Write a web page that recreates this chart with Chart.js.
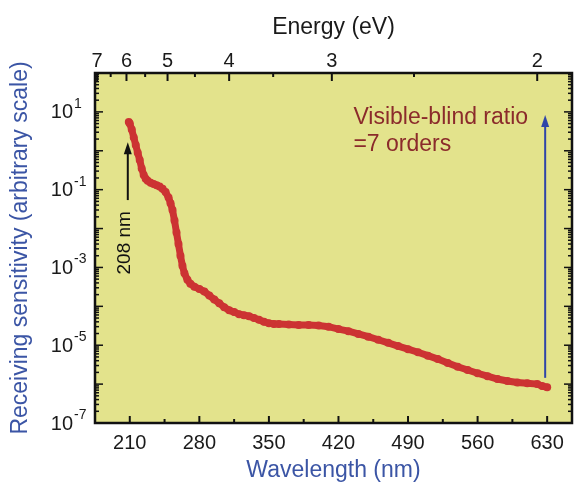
<!DOCTYPE html>
<html>
<head>
<meta charset="utf-8">
<script src="https://cdn.jsdelivr.net/npm/chart.js@4.4.0/dist/chart.umd.min.js"></script>
<style>
  html, body { margin: 0; padding: 0; background: #fff; }
  #wrap { width: 576px; height: 482px; }
</style>
</head>
<body>
<div id="wrap"><canvas id="c" width="576" height="482"></canvas></div>
<script>
// values (wavelength in nm, sensitivity arbitrary)
const wavelengths = [209, 210, 212, 214, 216, 218, 220, 222, 224, 226, 228, 231, 234, 237, 240, 243, 246, 249, 251, 253,
  255, 257, 259, 261, 263, 265, 268, 271, 275, 280, 285, 290, 295, 300, 305, 310, 315, 320, 325, 330,
  335, 340, 345, 350, 355, 360, 370, 380, 390, 400, 410, 420, 430, 440, 450, 460, 470, 480, 490, 500,
  510, 520, 530, 540, 550, 560, 570, 580, 590, 600, 610, 620, 625, 630];
const sensitivity = [5.5, 5.0, 3.5, 2.2, 1.4, 0.89, 0.58, 0.35, 0.24, 0.19, 0.17, 0.15, 0.14, 0.13, 0.12, 0.105, 0.087, 0.063, 0.045, 0.030,
  0.016, 7.9e-3, 4.0e-3, 2.0e-3, 1.1e-3, 7.1e-4, 4.8e-4, 3.8e-4, 3.2e-4, 2.8e-4, 2.4e-4, 1.9e-4, 1.5e-4, 1.2e-4, 9.5e-5, 7.9e-5, 7.1e-5, 6.3e-5, 5.9e-5, 5.6e-5,
  5.0e-5, 4.5e-5, 4.0e-5, 3.7e-5, 3.5e-5, 3.5e-5, 3.4e-5, 3.3e-5, 3.3e-5, 3.2e-5, 3.0e-5, 2.6e-5, 2.3e-5, 1.95e-5, 1.66e-5, 1.38e-5, 1.15e-5, 9.5e-6, 7.9e-6, 6.6e-6,
  5.4e-6, 4.4e-6, 3.5e-6, 2.8e-6, 2.3e-6, 1.9e-6, 1.6e-6, 1.35e-6, 1.2e-6, 1.1e-6, 1.05e-6, 1.0e-6, 8.9e-7, 8.3e-7];

const wavelengthTicks = [210, 280, 350, 420, 490, 560, 630];
const energyTicks = [7, 6, 5, 4, 3, 2];
const energyMinor = [6.5, 5.5, 4.5, 3.5, 2.5];
const decadeLabels = [1, -1, -3, -5, -7];

const blackArrow = { x: 208, from: 0.054, to: 1.66 };
const blueArrow = { x: 628, from: 1.45e-6, to: 8.3 };

const plotBg = '#e3e38c';
const red = '#cc3333';
const blue = '#3b55a5';
const FONT = '"Liberation Sans", Arial, sans-serif';

function arrow(ctx, x, y0, y1, color, w) {
  ctx.save();
  ctx.strokeStyle = color;
  ctx.fillStyle = color;
  ctx.lineWidth = w;
  ctx.beginPath();
  ctx.moveTo(x, y0);
  ctx.lineTo(x, y1 + 8);
  ctx.stroke();
  ctx.beginPath();
  ctx.moveTo(x, y1);
  ctx.lineTo(x - 4, y1 + 12);
  ctx.lineTo(x + 4, y1 + 12);
  ctx.closePath();
  ctx.fill();
  ctx.restore();
}

const decor = {
  id: 'decor',
  beforeDraw(chart) {
    const a = chart.chartArea, ctx = chart.ctx;
    ctx.save();
    ctx.fillStyle = plotBg;
    ctx.fillRect(a.left, a.top, a.right - a.left, a.bottom - a.top);
    ctx.restore();
  },
  afterDraw(chart) {
    const a = chart.chartArea, ctx = chart.ctx;
    const x = chart.scales.x, y = chart.scales.y;
    ctx.save();
    ctx.strokeStyle = '#111';

    // inside ticks, bottom
    ctx.lineWidth = 2;
    for (let v = 210; v < 655; v += 35) {
      const px = x.getPixelForValue(v);
      const len = wavelengthTicks.includes(v) ? 7 : 4;
      ctx.beginPath(); ctx.moveTo(px, a.bottom); ctx.lineTo(px, a.bottom - len); ctx.stroke();
    }
    // inside ticks, top (energy)
    energyTicks.concat(energyMinor).forEach(e => {
      const px = x.getPixelForValue(1240 / e);
      const len = energyTicks.includes(e) ? 8 : 4;
      ctx.beginPath(); ctx.moveTo(px, a.top); ctx.lineTo(px, a.top + len); ctx.stroke();
    });
    // inside ticks, left and right (log)
    ctx.lineWidth = 1.5;
    for (let d = -7; d < 2; d++) {
      for (let m = 1; m < 10; m++) {
        const py = y.getPixelForValue(m * Math.pow(10, d));
        if (py < a.top) continue;
        const len = m === 1 ? 8 : 4;
        ctx.beginPath(); ctx.moveTo(a.left, py); ctx.lineTo(a.left + len, py); ctx.stroke();
        ctx.beginPath(); ctx.moveTo(a.right, py); ctx.lineTo(a.right - len, py); ctx.stroke();
      }
    }

    // frame
    ctx.lineWidth = 2.5;
    ctx.strokeRect(a.left, a.top, a.right - a.left, a.bottom - a.top);

    // y tick labels with superscripts
    ctx.fillStyle = '#1a1a1a';
    ctx.textBaseline = 'middle';
    decadeLabels.forEach(p => {
      const py = y.getPixelForValue(Math.pow(10, p));
      ctx.font = '20px ' + FONT;
      ctx.textAlign = 'right';
      ctx.fillText('10', 73, py + 1);
      ctx.font = '14px ' + FONT;
      ctx.textAlign = 'left';
      ctx.fillText(p < 0 ? '-' + (-p) : String(p), 74, py - 8);
    });

    // annotations
    arrow(ctx, x.getPixelForValue(blackArrow.x), y.getPixelForValue(blackArrow.from), y.getPixelForValue(blackArrow.to), '#111', 2);
    arrow(ctx, x.getPixelForValue(blueArrow.x), y.getPixelForValue(blueArrow.from), y.getPixelForValue(blueArrow.to), '#2f45a8', 2);

    ctx.fillStyle = '#111';
    ctx.font = '19px ' + FONT;
    ctx.save();
    ctx.translate(x.getPixelForValue(205), y.getPixelForValue(4.3e-3));
    ctx.rotate(-Math.PI / 2);
    ctx.textAlign = 'center';
    ctx.fillText('208 nm', 0, 0);
    ctx.restore();

    ctx.fillStyle = '#8b2b2b';
    ctx.font = '23px ' + FONT;
    ctx.textAlign = 'left';
    ctx.fillText('Visible-blind ratio', x.getPixelForValue(435), 118);
    ctx.fillText('=7 orders', x.getPixelForValue(435), 145);
    ctx.restore();
  }
};

new Chart(document.getElementById('c'), {
  type: 'scatter',
  data: {
    datasets: [{
      data: wavelengths.map((w, i) => ({ x: w, y: sensitivity[i] })),
      showLine: true,
      borderColor: red,
      borderWidth: 7,
      backgroundColor: red,
      pointRadius: 4,
      pointBorderWidth: 0
    }]
  },
  options: {
    responsive: false,
    animation: false,
    layout: { padding: { right: 1 } },
    plugins: { legend: { display: false }, tooltip: { enabled: false } },
    scales: {
      x: {
        type: 'linear', min: 175, max: 655,
        grid: { display: false, drawTicks: false },
        border: { display: false },
        afterBuildTicks: s => { s.ticks = wavelengthTicks.map(v => ({ value: v })); },
        afterFit: s => { s.height = 59; },
        ticks: { autoSkip: false, maxRotation: 0, padding: 8, color: '#1a1a1a',
          font: { size: 20, family: FONT } },
        title: { display: true, text: 'Wavelength (nm)', color: blue, padding: { top: 0, bottom: -2 },
          font: { size: 23, family: FONT } }
      },
      x2: {
        type: 'linear', position: 'top', min: 175, max: 655,
        grid: { display: false, drawTicks: false },
        border: { display: false },
        afterBuildTicks: s => { s.ticks = energyTicks.map(e => ({ value: 1240 / e })); },
        afterFit: s => { s.height = 73; },
        ticks: { autoSkip: false, maxRotation: 0, padding: 0, color: '#1a1a1a',
          callback: v => String(Math.round(1240 / v)),
          font: { size: 20, family: FONT } },
        title: { display: true, text: 'Energy (eV)', color: '#1a1a1a', padding: { top: 14, bottom: 0 },
          font: { size: 23, family: FONT } }
      },
      y: {
        type: 'logarithmic', min: 1e-7, max: 1e2,
        grid: { display: false, drawTicks: false },
        border: { display: false },
        ticks: { display: false },
        afterFit: s => { s.width = 95; },
        title: { display: true, text: 'Receiving sensitivity (arbitrary scale)', color: blue, padding: { top: 7, bottom: 0 },
          font: { size: 23, family: FONT } }
      }
    }
  },
  plugins: [decor]
});
</script>
</body>
</html>
